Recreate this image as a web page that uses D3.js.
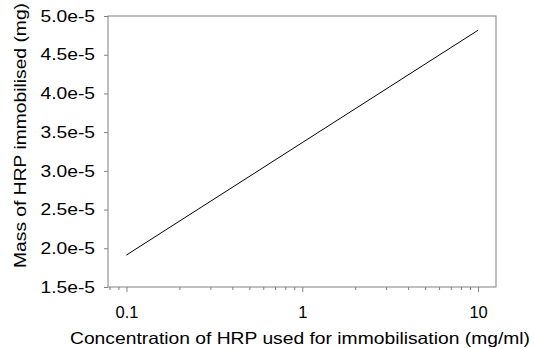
<!DOCTYPE html>
<html>
<head>
<meta charset="utf-8">
<script src="https://cdn.jsdelivr.net/npm/d3@7"></script>
<style>
  body { margin: 0; background: #fff; }
  text { font-family: "Liberation Sans", Arial, sans-serif; fill: #000; }
</style>
</head>
<body>
<svg id="chart"></svg>
<script>
const concentration = [0.1, 1, 10];
const mass = [1.913e-5, 3.365e-5, 4.816e-5];
const yTicks = [1.5e-5, 2.0e-5, 2.5e-5, 3.0e-5, 3.5e-5, 4.0e-5, 4.5e-5, 5.0e-5];
const xMajor = [0.1, 1, 10];
const xMinor = [0.08, 0.09, 0.2, 0.3, 0.4, 0.5, 0.6, 0.7, 0.8, 0.9, 2, 3, 4, 5, 6, 7, 8, 9];
const xTitle = 'Concentration of HRP used for immobilisation (mg/ml)';
const yTitle = 'Mass of HRP immobilised (mg)';

const w = 534;
const h = 348;
const svg = d3.select('svg').attr('width', w).attr('height', h);

const plotL = 108, plotR = 496, plotT = 16, plotB = 287;
const fontSize = 16.5;

const xScale = d3.scaleLog().domain([0.0785, 12.65]).range([plotL, plotR]);
const yScale = d3.scaleLinear().domain([1.5e-5, 5.0e-5]).range([plotB, plotT]);

// frame
svg.append('rect')
  .attr('x', plotL).attr('y', plotT)
  .attr('width', plotR - plotL).attr('height', plotB - plotT)
  .attr('fill', 'none').attr('stroke', '#808080').attr('stroke-width', 1);

// minor x ticks
svg.append('g')
  .attr('transform', `translate(0,${plotB})`)
  .call(d3.axisBottom(xScale).tickValues(xMinor).tickSize(3).tickFormat(''))
  .call((g) => g.select('.domain').remove())
  .call((g) => g.selectAll('line').attr('stroke', '#808080'));

// major x ticks
const xAxis = svg.append('g')
  .attr('transform', `translate(0,${plotB})`)
  .call(d3.axisBottom(xScale).tickValues(xMajor).tickSize(5).tickPadding(14.5).tickFormat(d3.format('~g')));
xAxis.select('.domain').remove();
xAxis.selectAll('line').attr('stroke', '#808080');
xAxis.selectAll('text').attr('font-size', fontSize).attr('fill', '#000')
  .style('font-family', '"Liberation Sans", Arial, sans-serif');

// y axis
const yAxis = svg.append('g')
  .attr('transform', `translate(${plotL},0)`)
  .call(d3.axisLeft(yScale).tickValues(yTicks).tickSize(4).tickPadding(9)
    .tickFormat((d) => (d / 1e-5).toFixed(1) + 'e-5'));
yAxis.select('.domain').remove();
yAxis.selectAll('line').attr('stroke', '#808080');
yAxis.selectAll('text').attr('font-size', fontSize).attr('fill', '#000')
  .style('font-family', '"Liberation Sans", Arial, sans-serif')
  .attr('textLength', 54.5).attr('lengthAdjust', 'spacingAndGlyphs');

// line
const line = d3.line()
  .x((d, i) => xScale(concentration[i]))
  .y((d) => yScale(d));
svg.append('path')
  .datum(mass)
  .attr('d', line)
  .attr('fill', 'none')
  .attr('stroke', '#000')
  .attr('stroke-width', 1);

// titles
svg.append('text')
  .attr('x', 300).attr('y', 343.5)
  .attr('text-anchor', 'middle').attr('font-size', fontSize)
  .attr('textLength', 460).attr('lengthAdjust', 'spacingAndGlyphs')
  .text(xTitle);

svg.append('text')
  .attr('transform', 'translate(25.5,135.5) rotate(-90)')
  .attr('text-anchor', 'middle').attr('font-size', fontSize)
  .attr('textLength', 265).attr('lengthAdjust', 'spacingAndGlyphs')
  .text(yTitle);
</script>
</body>
</html>
